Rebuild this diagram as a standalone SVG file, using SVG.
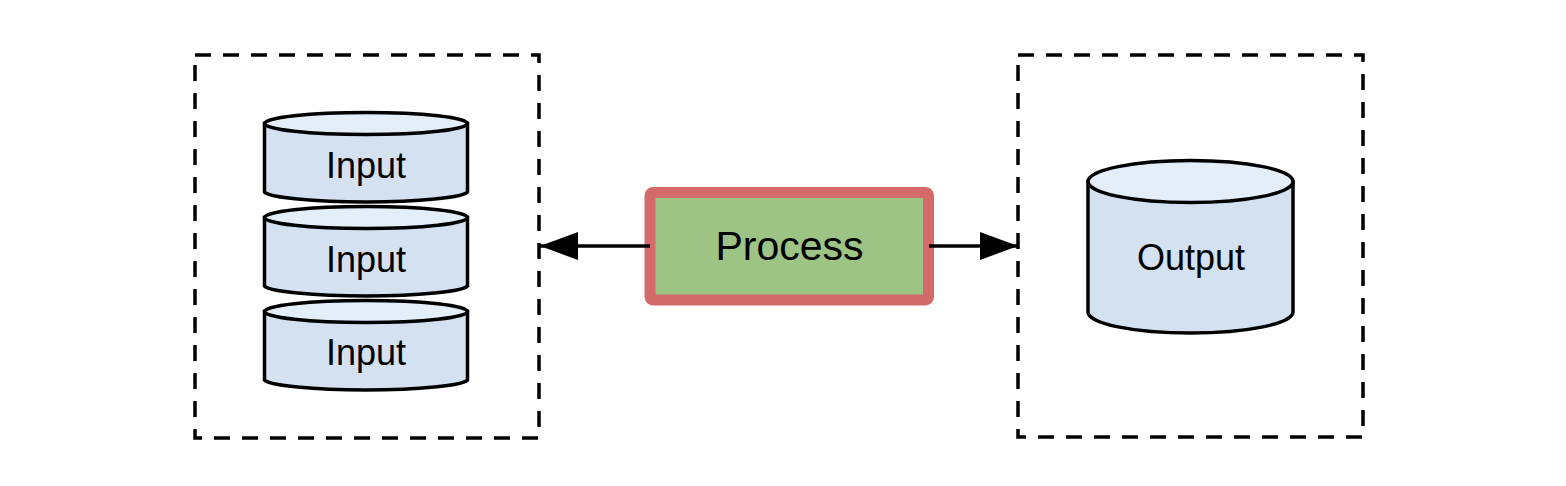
<svg xmlns="http://www.w3.org/2000/svg" width="1566" height="486" viewBox="0 0 1566 486">
<style>
.grp{fill:none;stroke:#000;stroke-width:3.5;stroke-dasharray:16 12}
.body{fill:#d4e1f1;stroke:#000;stroke-width:3.5}
.top{fill:#e4eef8;stroke:#000;stroke-width:3.5}
.lbl{font-family:"Liberation Sans",Arial,sans-serif;font-size:36px;fill:#000;text-anchor:middle}
.conn{stroke:#000;stroke-width:3.5;fill:none}
</style>
<defs>
<marker id="ah" viewBox="0 0 38 28" refX="38" refY="14" markerWidth="38" markerHeight="28" markerUnits="userSpaceOnUse" orient="auto">
<path d="M0,0 L38,14 L0,28 Z" fill="#000"/>
</marker>
</defs>
<rect width="1566" height="486" fill="#fff"/>
<g id="input-group"><rect class="grp" x="195" y="55" width="344" height="383"/></g>
<g id="output-group"><rect class="grp" x="1018" y="55" width="345" height="382"/></g>
<g id="input1">
<path class="body" d="M264.5,123.5 V192 A102,11 0 0 0 467.5,192 V123.5 Z"/>
<ellipse class="top" cx="366" cy="123.5" rx="101.5" ry="11"/>
<text class="lbl" x="366" y="178">Input</text>
</g>
<g id="input2">
<path class="body" d="M264.5,217.5 V286 A102,11 0 0 0 467.5,286 V217.5 Z"/>
<ellipse class="top" cx="366" cy="217.5" rx="101.5" ry="11"/>
<text class="lbl" x="366" y="272">Input</text>
</g>
<g id="input3">
<path class="body" d="M264.5,311.5 V380 A102,11 0 0 0 467.5,380 V311.5 Z"/>
<ellipse class="top" cx="366" cy="311.5" rx="101.5" ry="11"/>
<text class="lbl" x="366" y="365">Input</text>
</g>
<g id="output">
<path class="body" d="M1088,181.5 V312 A102.5,21 0 0 0 1293,312 V181.5 Z"/>
<ellipse class="top" cx="1190.5" cy="181.5" rx="102.5" ry="21"/>
<text class="lbl" x="1191" y="270">Output</text>
</g>
<g id="process">
<rect x="650" y="192.5" width="278.5" height="107.5" rx="3" fill="#9dc385" stroke="#d26b69" stroke-width="11"/>
<text class="lbl" x="789.5" y="260" style="font-size:41px">Process</text>
</g>
<g id="connectors">
<path class="conn" d="M650,246 H540" marker-end="url(#ah)"/>
<path class="conn" d="M929,246 H1018" marker-end="url(#ah)"/>
</g>
</svg>
